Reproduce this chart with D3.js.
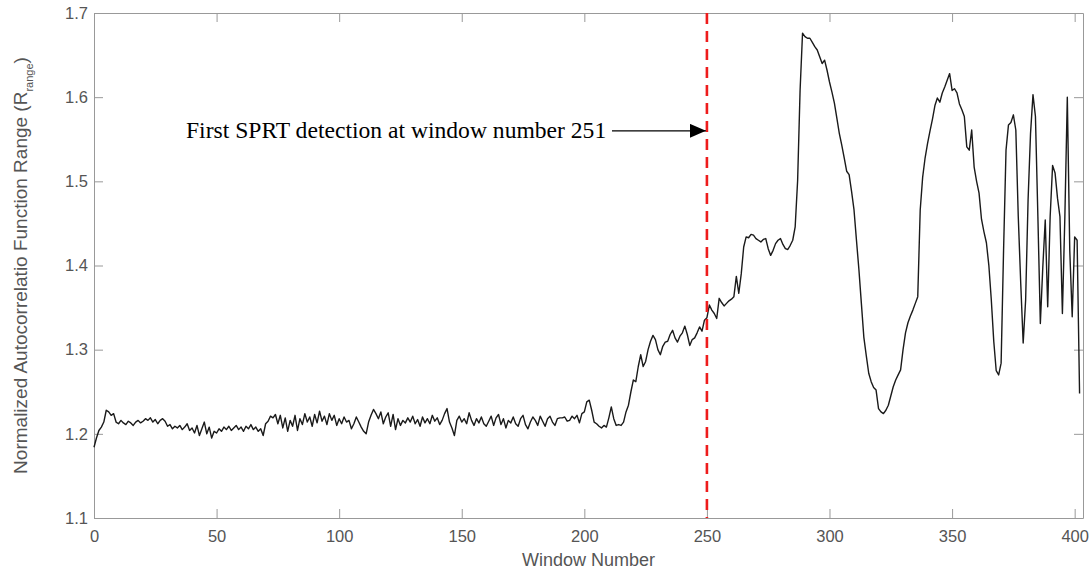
<!DOCTYPE html>
<html>
<head>
<meta charset="utf-8">
<script src="https://cdn.jsdelivr.net/npm/d3@7"></script>
<style>
  body { margin: 0; background: #fff; }
  .axis text { font-family: "Liberation Sans", Arial, sans-serif; font-size: 16.5px; fill: #555; }
  .axis line, .axis path { stroke: #999; }
</style>
</head>
<body>
<script>

// tick values for both axes
const xTicks = [0, 50, 100, 150, 200, 250, 300, 350, 400];
const yTicks = [1.1, 1.2, 1.3, 1.4, 1.5, 1.6, 1.7];

// first detection marker and its label
const detectWindow = 250;
const detectLabel = 'First SPRT detection at window number 251';
const arrowLevel = 1.56;

// normalized autocorrelation range per window, window 0 .. 402
const rRange = [
  1.184, 1.195, 1.204, 1.208, 1.214, 1.228, 1.226, 1.222, 1.224, 1.214,
  1.212, 1.216, 1.213, 1.211, 1.215, 1.213, 1.210, 1.214, 1.216, 1.213,
  1.215, 1.218, 1.216, 1.219, 1.214, 1.217, 1.212, 1.216, 1.218, 1.215,
  1.209, 1.211, 1.206, 1.209, 1.207, 1.210, 1.205, 1.208, 1.212, 1.204,
  1.207, 1.201, 1.210, 1.198, 1.206, 1.214, 1.200, 1.208, 1.195, 1.203,
  1.201, 1.206, 1.203, 1.208, 1.205, 1.209, 1.204, 1.207, 1.210, 1.205,
  1.208, 1.203, 1.209, 1.206, 1.211, 1.205, 1.208, 1.203, 1.206, 1.198,
  1.212, 1.215, 1.221, 1.219, 1.223, 1.212, 1.222, 1.207, 1.219, 1.203,
  1.216, 1.209, 1.222, 1.204, 1.218, 1.211, 1.224, 1.214, 1.220, 1.209,
  1.223, 1.213, 1.227, 1.215, 1.221, 1.211, 1.224, 1.216, 1.222, 1.210,
  1.218, 1.212, 1.220, 1.214, 1.216, 1.206, 1.212, 1.220, 1.214, 1.208,
  1.203, 1.200, 1.214, 1.222, 1.229, 1.224, 1.218, 1.226, 1.212, 1.220,
  1.225, 1.209, 1.223, 1.205, 1.218, 1.210, 1.216, 1.213, 1.219, 1.214,
  1.221, 1.212, 1.217, 1.209, 1.220, 1.213, 1.218, 1.212, 1.222, 1.215,
  1.219, 1.211, 1.216, 1.224, 1.230, 1.214, 1.207, 1.198, 1.216, 1.221,
  1.214, 1.218, 1.212, 1.225, 1.216, 1.210, 1.218, 1.213, 1.220, 1.212,
  1.209, 1.215, 1.221, 1.210, 1.219, 1.223, 1.211, 1.218, 1.207, 1.216,
  1.213, 1.220, 1.212, 1.209, 1.218, 1.222, 1.211, 1.206, 1.214, 1.220,
  1.216, 1.210, 1.221, 1.215, 1.209, 1.218, 1.221, 1.214, 1.210, 1.218,
  1.219, 1.219, 1.220, 1.215, 1.216, 1.221, 1.218, 1.222, 1.213, 1.224,
  1.226, 1.238, 1.240, 1.228, 1.214, 1.212, 1.209, 1.207, 1.210, 1.208,
  1.219, 1.232, 1.218, 1.210, 1.211, 1.210, 1.214, 1.226, 1.234, 1.250,
  1.264, 1.262, 1.280, 1.294, 1.280, 1.286, 1.300, 1.310, 1.317, 1.312,
  1.300, 1.294, 1.304, 1.309, 1.310, 1.318, 1.323, 1.314, 1.309, 1.316,
  1.320, 1.328, 1.318, 1.305, 1.312, 1.314, 1.320, 1.327, 1.322, 1.335,
  1.338, 1.353, 1.347, 1.343, 1.337, 1.361, 1.356, 1.352, 1.355, 1.358,
  1.360, 1.363, 1.387, 1.367, 1.390, 1.422, 1.434, 1.433, 1.437, 1.436,
  1.432, 1.430, 1.428, 1.431, 1.432, 1.420, 1.412, 1.418, 1.426, 1.430,
  1.432, 1.425, 1.420, 1.419, 1.424, 1.430, 1.446, 1.501, 1.608, 1.676,
  1.672, 1.670, 1.670, 1.665, 1.660, 1.656, 1.648, 1.640, 1.644, 1.632,
  1.618, 1.606, 1.593, 1.575, 1.557, 1.543, 1.528, 1.512, 1.508, 1.488,
  1.466, 1.430, 1.395, 1.355, 1.315, 1.293, 1.272, 1.262, 1.255, 1.252,
  1.230, 1.226, 1.224, 1.228, 1.234, 1.245, 1.256, 1.264, 1.270, 1.276,
  1.300, 1.320, 1.332, 1.340, 1.347, 1.355, 1.363, 1.466, 1.505, 1.528,
  1.545, 1.560, 1.574, 1.590, 1.599, 1.594, 1.605, 1.612, 1.620, 1.628,
  1.608, 1.610, 1.605, 1.592, 1.585, 1.577, 1.541, 1.537, 1.561, 1.517,
  1.500, 1.486, 1.455, 1.440, 1.427, 1.400, 1.359, 1.310, 1.275, 1.270,
  1.284, 1.418, 1.537, 1.567, 1.570, 1.579, 1.561, 1.458, 1.379, 1.308,
  1.359, 1.478, 1.557, 1.603, 1.577, 1.458, 1.331, 1.398, 1.454, 1.351,
  1.458, 1.519, 1.510, 1.480, 1.458, 1.343, 1.458, 1.600, 1.418, 1.339,
  1.434, 1.430, 1.248
];

// set dimensions
const WIDTH = 1091;
const HEIGHT = 571;
const MARGIN = {top: 13, bottom: 53, left: 94, right: 8};
const TICK = 9;

let SVG = d3.select('body')
            .append('svg')
            .attr('width', WIDTH)
            .attr('height', HEIGHT);

const xScale = d3.scaleLinear()
                 .domain([0, 403.4])
                 .range([MARGIN.left, WIDTH - MARGIN.right]);

const yScale = d3.scaleLinear()
                 .domain([1.1, 1.7])
                 .range([HEIGHT - MARGIN.bottom, MARGIN.top]);

// ticks point inward on all four sides, matlab style
SVG.append('g')
   .attr('class', 'axis')
   .attr('transform', 'translate(0,' + (HEIGHT - MARGIN.bottom) + ')')
   .call(d3.axisBottom(xScale).tickValues(xTicks).tickSize(-TICK).tickPadding(12).tickSizeOuter(0));

SVG.append('g')
   .attr('class', 'axis')
   .attr('transform', 'translate(0,' + MARGIN.top + ')')
   .call(d3.axisTop(xScale).tickValues(xTicks).tickSize(-TICK).tickFormat('').tickSizeOuter(0));

SVG.append('g')
   .attr('class', 'axis')
   .attr('transform', 'translate(' + MARGIN.left + ',0)')
   .call(d3.axisLeft(yScale).tickValues(yTicks).tickSize(-TICK).tickPadding(6).tickSizeOuter(0)
           .tickFormat(d3.format('.1f')));

SVG.append('g')
   .attr('class', 'axis')
   .attr('transform', 'translate(' + (WIDTH - MARGIN.right) + ',0)')
   .call(d3.axisRight(yScale).tickValues(yTicks).tickSize(-TICK).tickFormat('').tickSizeOuter(0));

// the data line
const line = d3.line()
               .x((d, i) => xScale(i))
               .y(d => yScale(d));

SVG.append('path')
   .datum(rRange)
   .attr('d', line)
   .attr('fill', 'none')
   .attr('stroke', '#1a1a1a')
   .attr('stroke-width', 1.4)
   .attr('stroke-linejoin', 'round');

// red dashed detection line
SVG.append('line')
   .attr('x1', xScale(detectWindow))
   .attr('x2', xScale(detectWindow))
   .attr('y1', yScale(1.7))
   .attr('y2', yScale(1.1))
   .attr('stroke', '#ee1c1c')
   .attr('stroke-width', 2.6)
   .attr('stroke-dasharray', '11,7');

// annotation arrow pointing at the dashed line
SVG.append('defs')
   .append('marker')
   .attr('id', 'head')
   .attr('viewBox', '0 0 16 14')
   .attr('refX', 16)
   .attr('refY', 7)
   .attr('markerWidth', 16)
   .attr('markerHeight', 14)
   .attr('markerUnits', 'userSpaceOnUse')
   .attr('orient', 'auto')
   .append('path')
   .attr('d', 'M0,0 L16,7 L0,14 Z')
   .attr('fill', '#000');

SVG.append('line')
   .attr('x1', 612)
   .attr('x2', xScale(detectWindow) - 1)
   .attr('y1', yScale(arrowLevel))
   .attr('y2', yScale(arrowLevel))
   .attr('stroke', '#000')
   .attr('stroke-width', 1.2)
   .attr('marker-end', 'url(#head)');

SVG.append('text')
   .attr('x', 186)
   .attr('y', yScale(arrowLevel) + 7)
   .style('font-family', '"Liberation Serif", "Times New Roman", serif')
   .style('font-size', '23.6px')
   .style('fill', '#000')
   .text(detectLabel);

// axis labels
SVG.append('text')
   .attr('x', (MARGIN.left + WIDTH - MARGIN.right) / 2)
   .attr('y', 566)
   .attr('text-anchor', 'middle')
   .style('font-family', '"Liberation Sans", Arial, sans-serif')
   .style('font-size', '18px')
   .style('fill', '#555')
   .text('Window Number');

let yLabel = SVG.append('text')
   .attr('transform', 'translate(27,' + (MARGIN.top + HEIGHT - MARGIN.bottom) / 2 + ') rotate(-90)')
   .attr('text-anchor', 'middle')
   .style('font-family', '"Liberation Sans", Arial, sans-serif')
   .style('font-size', '19px')
   .style('fill', '#555');

yLabel.append('tspan').text('Normalized Autocorrelatio Function Range (R');
yLabel.append('tspan').attr('baseline-shift', 'sub').style('font-size', '11px').text('range');
yLabel.append('tspan').text(')');

</script>
</body>
</html>
